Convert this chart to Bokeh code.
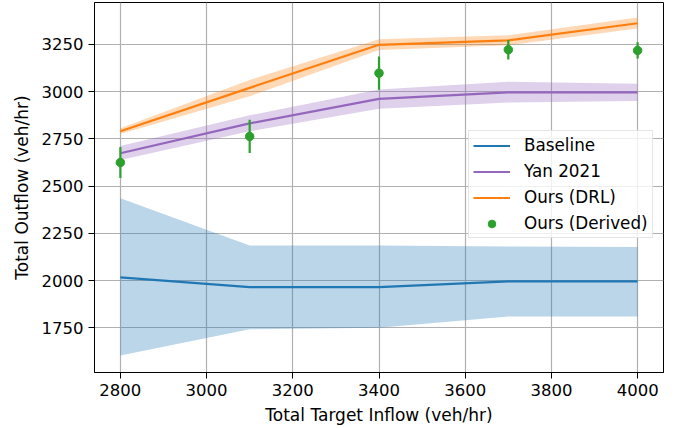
from bokeh.plotting import figure
from bokeh.models import Range1d, FixedTicker, Legend, LegendItem
from bokeh.embed import file_html
from bokeh.resources import INLINE

inflow = [2800, 3100, 3400, 3700, 4000]

baseline_mean = [2017, 1965, 1965, 1995, 1995]
baseline_lo = [1603, 1742, 1750, 1809, 1809]
baseline_hi = [2435, 2185, 2185, 2180, 2178]

yan_mean = [2674, 2832, 2962, 2996, 2996]
yan_lo = [2638, 2790, 2910, 2942, 2950]
yan_hi = [2712, 2875, 3012, 3052, 3042]

drl_mean = [2790, 3020, 3248, 3271, 3362]
drl_lo = [2776, 2976, 3220, 3245, 3334]
drl_hi = [2806, 3062, 3278, 3298, 3392]

derived_mean = [2625, 2763, 3098, 3222, 3218]
derived_err = [82, 88, 88, 52, 43]

x_ticks = [2800, 3000, 3200, 3400, 3600, 3800, 4000]
y_ticks = [1750, 2000, 2250, 2500, 2750, 3000, 3250]

FONT = "DejaVu Sans"
FS = "16.5px"
FS_LABEL = "17px"

p = figure(width=682, height=428, output_backend="svg", toolbar_location=None,
           x_range=Range1d(2740, 4060), y_range=Range1d(1513, 3472),
           min_border_left=94, min_border_right=19, min_border_top=2, min_border_bottom=56)

p.outline_line_color = "black"
p.outline_line_width = 1
p.background_fill_color = "white"
p.border_fill_color = "white"

for ax in (p.xaxis[0], p.yaxis[0]):
    ax.major_label_text_font = FONT
    ax.major_label_text_font_size = FS
    ax.major_label_text_color = "black"
    ax.axis_label_text_font = FONT
    ax.axis_label_text_font_size = FS_LABEL
    ax.axis_label_text_font_style = "normal"
    ax.axis_label_text_color = "black"
    ax.major_tick_out = 6
    ax.major_tick_in = 0
    ax.minor_tick_out = 0
    ax.minor_tick_in = 0
    ax.axis_line_color = "black"
    ax.major_tick_line_color = "black"
    ax.major_label_standoff = 5

p.xaxis.ticker = FixedTicker(ticks=x_ticks)
p.yaxis.ticker = FixedTicker(ticks=y_ticks)
p.xgrid.ticker = FixedTicker(ticks=x_ticks)
p.ygrid.ticker = FixedTicker(ticks=y_ticks)
p.xaxis.axis_label = "Total Target Inflow (veh/hr)"
p.yaxis.axis_label = "Total Outflow (veh/hr)"
p.xaxis.axis_label_standoff = 6
p.yaxis.axis_label_standoff = 7

for g in (p.xgrid[0], p.ygrid[0]):
    g.grid_line_color = "#b0b0b0"
    g.grid_line_width = 1.2

BLUE, PURPLE, ORANGE, GREEN = "#1f77b4", "#9467bd", "#ff7f0e", "#2ca02c"

p.varea(x=inflow, y1=baseline_lo, y2=baseline_hi, fill_color=BLUE, fill_alpha=0.3)
r_base = p.line(inflow, baseline_mean, line_color=BLUE, line_width=2.2)

p.varea(x=inflow, y1=yan_lo, y2=yan_hi, fill_color=PURPLE, fill_alpha=0.3)
r_yan = p.line(inflow, yan_mean, line_color=PURPLE, line_width=2.2)

p.varea(x=inflow, y1=drl_lo, y2=drl_hi, fill_color=ORANGE, fill_alpha=0.3)
r_drl = p.line(inflow, drl_mean, line_color=ORANGE, line_width=2.2)

err_lo = [m - e for m, e in zip(derived_mean, derived_err)]
err_hi = [m + e for m, e in zip(derived_mean, derived_err)]
p.segment(x0=inflow, y0=err_lo, x1=inflow, y1=err_hi, line_color=GREEN, line_width=2.2)
r_der = p.scatter(inflow, derived_mean, size=8.5, fill_color=GREEN, line_color=GREEN)

legend = Legend(items=[
    LegendItem(label="Baseline", renderers=[r_base]),
    LegendItem(label="Yan 2021", renderers=[r_yan]),
    LegendItem(label="Ours (DRL)", renderers=[r_drl]),
    LegendItem(label="Ours (Derived)", renderers=[r_der]),
], location=(374, 134))
legend.label_text_font = FONT
legend.label_text_font_size = "16.8px"
legend.label_text_color = "black"
legend.glyph_width = 37
legend.glyph_height = 19
legend.label_height = 19
legend.label_standoff = 14
legend.spacing = 6
legend.padding = 4
legend.margin = 0
legend.border_line_color = "#cccccc"
legend.border_line_width = 1
legend.background_fill_color = "white"
legend.background_fill_alpha = 0.8
p.add_layout(legend, "center")

open("out.html", "w").write(file_html(p, INLINE))
